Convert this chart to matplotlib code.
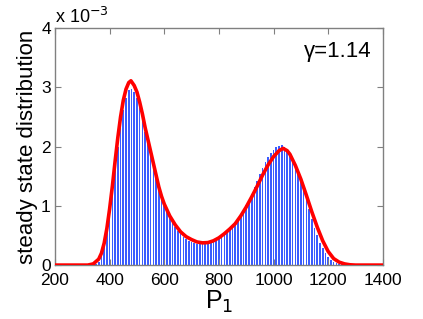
import matplotlib
matplotlib.use("Agg")
import matplotlib.pyplot as plt

plt.rcParams['font.family'] = ['Liberation Sans', 'DejaVu Sans']

# Smooth (red) curve, values in units of 1e-3
curve_x = [200, 300, 320, 340, 360, 370, 380, 390, 400, 410, 420, 430, 440, 450, 460,
           470, 478, 490, 500, 510, 520, 530, 540, 550, 560, 570, 580, 590, 600, 620,
           640, 660, 680, 700, 720, 740, 760, 780, 800, 820, 840, 860, 880, 900, 920,
           940, 960, 980, 1000, 1020, 1035, 1050, 1060, 1080, 1100, 1120, 1140, 1160,
           1180, 1200, 1220, 1240, 1260, 1280, 1300, 1400]
curve_y = [0, 0, 0.0, 0.02, 0.10, 0.20, 0.37, 0.62, 0.95, 1.33, 1.75, 2.15, 2.50, 2.78,
           2.97, 3.08, 3.11, 3.03, 2.92, 2.75, 2.55, 2.32, 2.12, 1.92, 1.72, 1.52, 1.32,
           1.16, 1.03, 0.83, 0.68, 0.56, 0.48, 0.43, 0.39, 0.375, 0.38, 0.41, 0.46, 0.53,
           0.61, 0.70, 0.83, 0.98, 1.15, 1.33, 1.52, 1.69, 1.83, 1.93, 1.97, 1.93, 1.87,
           1.68, 1.45, 1.18, 0.90, 0.64, 0.41, 0.23, 0.11, 0.05, 0.02, 0.005, 0, 0]

# Histogram bins (centers) and heights, units of 1e-3
bin_centers = list(range(350, 1260, 10))
bin_heights = [0.02, 0.06, 0.15, 0.32, 0.55, 0.85, 1.2, 1.6, 2.0, 2.35, 2.62, 2.82,
               2.95, 2.97, 2.92, 2.82, 2.66, 2.46, 2.25, 2.05, 1.86, 1.67, 1.48, 1.29,
               1.13, 1.00, 0.89, 0.79, 0.71, 0.64, 0.58, 0.52, 0.48, 0.44, 0.41, 0.39,
               0.37, 0.36, 0.355, 0.355, 0.36, 0.37, 0.38, 0.40, 0.42, 0.45, 0.48, 0.52,
               0.56, 0.61, 0.66, 0.72, 0.79, 0.86, 0.93, 1.01, 1.10, 1.20, 1.31, 1.42,
               1.53, 1.64, 1.74, 1.83, 1.90, 1.95, 1.99, 2.01, 2.02, 2.00, 1.96, 1.89,
               1.79, 1.67, 1.54, 1.40, 1.26, 1.10, 0.94, 0.78, 0.63, 0.50, 0.38, 0.28,
               0.20, 0.14, 0.09, 0.06, 0.04, 0.02, 0.01]

x_ticks = [200, 400, 600, 800, 1000, 1200, 1400]
y_ticks = [0, 1, 2, 3, 4]

fig = plt.figure(figsize=(4.23, 3.19), dpi=100)
ax = fig.add_axes([0.130, 0.169, 0.775, 0.743])

ax.bar(bin_centers, bin_heights, width=6, color='#3a5cff', edgecolor='none', zorder=1)
ax.plot(curve_x, curve_y, color='red', lw=2.6, zorder=3, solid_joinstyle='round',
        solid_capstyle='round')

ax.set_xlim(200, 1400)
ax.set_ylim(0, 4)
ax.set_xticks(x_ticks)
ax.set_yticks(y_ticks)
ax.tick_params(direction='in', top=True, right=True, labelsize=12.5, length=4,
               color='#808080')
ax.tick_params(axis='x', pad=6)
ax.tick_params(axis='y', pad=3)
for s in ax.spines.values():
    s.set_color('#808080')
    s.set_linewidth(1.0)

ax.set_xlabel('P$_1$', fontsize=18, labelpad=0)
ax.set_ylabel('steady state distribution', fontsize=16, labelpad=2)
ax.text(0.965, 0.9, 'γ=1.14', transform=ax.transAxes, ha='right', va='center', fontsize=16)
ax.text(0.0, 1.005, 'x 10$^{-3}$', transform=ax.transAxes, ha='left', va='bottom', fontsize=13)

fig.savefig('out.png', dpi=100)
